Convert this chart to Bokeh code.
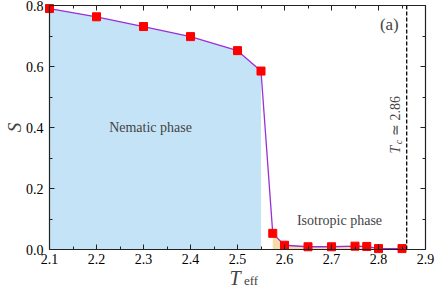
import math
from bokeh.plotting import figure
from bokeh.models import (Label, LinearAxis, PrintfTickFormatter, Range1d, FixedTicker,
                          CustomJSTickFormatter)
from bokeh.embed import file_html
from bokeh.resources import INLINE

# ---- data ----
T_eff = [2.10, 2.20, 2.30, 2.40, 2.50, 2.55, 2.575, 2.60, 2.65, 2.70, 2.75, 2.775, 2.80, 2.85]
S_vals = [0.790, 0.763, 0.731, 0.698, 0.652, 0.585, 0.053, 0.014, 0.009, 0.009, 0.011, 0.010, 0.003, 0.003]
T_c = 2.86
nematic_end = 2.55
isotropic_start = 2.575
x_lim = (2.1, 2.9)
y_lim = (0.0, 0.8)
x_ticks = [2.1, 2.2, 2.3, 2.4, 2.5, 2.6, 2.7, 2.8, 2.9]
y_ticks = [0.0, 0.2, 0.4, 0.6, 0.8]
x_minor = [2.15, 2.25, 2.35, 2.45, 2.55, 2.65, 2.75, 2.85]
y_minor = [0.1, 0.3, 0.5, 0.7]

nem_x = [t for t in T_eff if t <= nematic_end]
nem_y = [s for t, s in zip(T_eff, S_vals) if t <= nematic_end]
iso_x = [t for t in T_eff if t >= isotropic_start]
iso_y = [s for t, s in zip(T_eff, S_vals) if t >= isotropic_start]

SERIF = "'Liberation Serif'"
W, H = 436, 290
# pixel margins of the axes box inside the canvas
ML, MR, MT, MB = 49, 11, 5, 41
xs = (x_lim[1] - x_lim[0]) / (W - ML - MR)
ys = (y_lim[1] - y_lim[0]) / (H - MT - MB)

p = figure(width=W, height=H,
           x_range=Range1d(x_lim[0] - ML * xs, x_lim[1] + MR * xs),
           y_range=Range1d(y_lim[0] - MB * ys, y_lim[1] + MT * ys),
           output_backend="svg", toolbar_location=None,
           x_axis_location=None, y_axis_location=None,
           min_border_left=0, min_border_right=0, min_border_top=0, min_border_bottom=0,
           background_fill_color="white", border_fill_color="white",
           outline_line_color=None)
p.grid.visible = False

xt = FixedTicker(ticks=x_ticks, minor_ticks=x_minor)
yt = FixedTicker(ticks=y_ticks, minor_ticks=y_minor)

def make_axis(ticker, loc, bounds, labels):
    ax = LinearAxis(ticker=ticker, fixed_location=loc, bounds=bounds)
    ax.major_tick_in = 5
    ax.major_tick_out = 0
    ax.minor_tick_in = 3
    ax.minor_tick_out = 0
    ax.axis_line_color = "#222222"
    ax.axis_line_width = 1.2
    ax.major_tick_line_color = "#222222"
    ax.minor_tick_line_color = "#222222"
    ax.major_label_text_font = SERIF
    ax.major_label_text_color = "black"
    if labels:
        ax.major_label_text_font_size = "14px"
        ax.formatter = PrintfTickFormatter(format="%.1f")
    else:
        ax.major_label_text_font_size = "1px"
        ax.formatter = CustomJSTickFormatter(code="return ''")
        ax.major_label_standoff = 0
    return ax

bottom = make_axis(xt, y_lim[0], x_lim, True)
bottom.major_label_standoff = 4
left = make_axis(yt, x_lim[0], y_lim, True)
left.major_label_standoff = 6
top = make_axis(xt, y_lim[1], x_lim, False)
right = make_axis(yt, x_lim[1], y_lim, False)
p.add_layout(bottom, "below")
p.add_layout(left, "left")
p.add_layout(top, "above")
p.add_layout(right, "right")

# filled phase regions
p.varea(x=nem_x, y1=[0.0] * len(nem_x), y2=nem_y, fill_color="#c5e3f6")
p.varea(x=iso_x, y1=[0.0] * len(iso_x), y2=iso_y, fill_color="#f6dcaa")

# curve and markers
p.line(T_eff, S_vals, line_color="#9b2fd6", line_width=1.3)
p.scatter(T_eff, S_vals, marker="square", size=8, fill_color="#ff0000", line_color="#ff0000")

# Tc line
p.segment(x0=[T_c], y0=[y_lim[0]], x1=[T_c], y1=[y_lim[1]], line_color="black",
          line_dash="4 2", line_width=1.3)

# texts
p.add_layout(Label(x=2.315, y=0.40, text="Nematic phase", text_font=SERIF,
                   text_font_size="14px", text_align="center", text_baseline="middle"))
p.add_layout(Label(x=2.717, y=0.095, text="Isotropic phase", text_font=SERIF,
                   text_font_size="14px", text_align="center", text_baseline="middle"))
p.add_layout(Label(x=2.823, y=0.738, text="(a)", text_font=SERIF,
                   text_font_size="17px", text_align="center", text_baseline="middle"))

# rotated Tc annotation
p.add_layout(Label(x=2.836, y=0.315, text="T", text_font=SERIF, text_font_style="italic",
                   text_font_size="14px", angle=math.pi / 2, text_align="left",
                   text_baseline="alphabetic"))
p.add_layout(Label(x=2.842, y=0.345, text="c", text_font=SERIF, text_font_style="italic",
                   text_font_size="10px", angle=math.pi / 2, text_align="left",
                   text_baseline="alphabetic"))
p.add_layout(Label(x=2.836, y=0.372, text="\u2243 2.86", text_font=SERIF,
                   text_font_size="14px", angle=math.pi / 2, text_align="left",
                   text_baseline="alphabetic"))

# axis titles
p.add_layout(Label(x=2.0255, y=0.40, text="S", text_font=SERIF, text_font_style="italic",
                   text_font_size="19px", angle=math.pi / 2, text_align="center",
                   text_baseline="middle"))
p.add_layout(Label(x=2.483, y=-0.092, text="T", text_font=SERIF, text_font_style="italic",
                   text_font_size="20px", text_align="left", text_baseline="alphabetic"))
p.add_layout(Label(x=2.5138, y=-0.101, text="eff", text_font=SERIF,
                   text_font_size="13px", text_align="left", text_baseline="alphabetic"))

open("out.html", "w").write(file_html(p, INLINE))
